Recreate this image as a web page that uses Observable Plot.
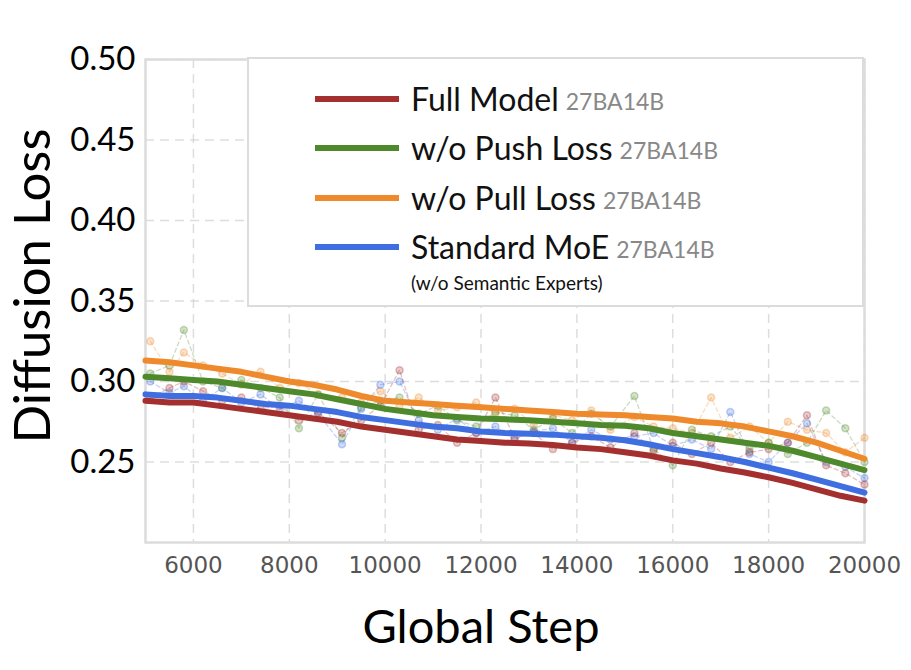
<!DOCTYPE html>
<html>
<head>
<meta charset="utf-8">
<script src="https://cdn.jsdelivr.net/npm/d3@7"></script>
<script src="https://cdn.jsdelivr.net/npm/@observablehq/plot@0.6"></script>
<style>
  html, body { margin: 0; padding: 0; background: #fff; }
  #wrap { position: relative; width: 911px; height: 670px; font-family: Lato, "Open Sans", sans-serif; }
  #legend { position: absolute; left: 247px; top: 57px; width: 613px; height: 246px; background: #fff; border: 2px solid #dcdcdc; }
  .row { position: absolute; left: 66px; display: flex; align-items: center; white-space: nowrap; }
  .sw { width: 84px; height: 6px; margin-right: 12px; }
  .name { font-size: 32px; color: #111; }
  .tag { font-size: 23px; color: #888; margin-left: 7px; padding-top: 5px; }
  .sub { position: absolute; left: 162px; top: 212px; font-size: 19px; color: #111; }
</style>
</head>
<body>
<div id="wrap"></div>
<script>
// ---- data ----
const seriesNames = ["Full Model", "w/o Push Loss", "w/o Pull Loss", "Standard MoE"];
const seriesColors = ["#a3302f", "#4e8a2c", "#ee8a2c", "#3f6ee0"];
const modelTag = "27BA14B";
const subNote = "(w/o Semantic Experts)";

const steps = [5000,5500,6000,6500,7000,7500,8000,8500,9000,9500,10000,10500,11000,11500,12000,12500,13000,13500,14000,14500,15000,15500,16000,16500,17000,17500,18000,18500,19000,19500,20000];

const fullSmooth  = [0.288,0.287,0.287,0.285,0.283,0.281,0.279,0.277,0.275,0.272,0.270,0.268,0.266,0.264,0.263,0.262,0.2615,0.2605,0.259,0.258,0.256,0.254,0.251,0.249,0.246,0.2435,0.2405,0.237,0.233,0.229,0.226];
const pushSmooth  = [0.303,0.302,0.301,0.300,0.298,0.296,0.294,0.292,0.289,0.286,0.283,0.281,0.279,0.278,0.277,0.2765,0.276,0.275,0.274,0.273,0.2725,0.271,0.268,0.266,0.264,0.262,0.260,0.257,0.253,0.249,0.245];
const pullSmooth  = [0.313,0.312,0.310,0.308,0.306,0.303,0.300,0.298,0.295,0.291,0.288,0.287,0.286,0.285,0.284,0.283,0.282,0.281,0.280,0.2795,0.279,0.278,0.277,0.275,0.274,0.272,0.269,0.266,0.262,0.257,0.252];
const moeSmooth   = [0.292,0.291,0.291,0.290,0.288,0.286,0.285,0.283,0.281,0.278,0.276,0.274,0.272,0.271,0.269,0.268,0.2675,0.267,0.266,0.265,0.2635,0.261,0.258,0.2555,0.253,0.250,0.2465,0.243,0.239,0.235,0.231];

const rawSteps = [5100,5500,5800,6200,6600,7000,7400,7800,8200,8600,9100,9500,9900,10300,10700,11100,11500,11900,12300,12700,13100,13500,13900,14300,14700,15200,15600,16000,16400,16800,17200,17600,18000,18400,18800,19200,19600,20000];
const fullRaw = [0.290,0.296,0.300,0.294,0.288,0.290,0.283,0.285,0.276,0.281,0.268,0.276,0.285,0.307,0.270,0.273,0.262,0.268,0.290,0.265,0.268,0.258,0.262,0.266,0.259,0.268,0.257,0.262,0.255,0.262,0.250,0.256,0.258,0.262,0.279,0.248,0.243,0.236];
const pushRaw = [0.305,0.310,0.332,0.300,0.296,0.301,0.296,0.290,0.271,0.292,0.265,0.284,0.288,0.290,0.280,0.285,0.276,0.272,0.281,0.279,0.270,0.277,0.268,0.280,0.272,0.291,0.258,0.248,0.270,0.266,0.272,0.258,0.262,0.255,0.262,0.282,0.271,0.250];
const pullRaw = [0.325,0.306,0.318,0.310,0.305,0.298,0.306,0.296,0.299,0.292,0.290,0.287,0.294,0.285,0.290,0.282,0.284,0.287,0.280,0.283,0.273,0.279,0.276,0.282,0.270,0.278,0.272,0.271,0.268,0.290,0.265,0.272,0.262,0.275,0.270,0.268,0.256,0.265];
const moeRaw  = [0.300,0.293,0.297,0.288,0.296,0.287,0.292,0.283,0.288,0.280,0.261,0.283,0.298,0.300,0.276,0.270,0.277,0.268,0.272,0.264,0.269,0.271,0.262,0.270,0.264,0.266,0.268,0.260,0.264,0.258,0.281,0.255,0.250,0.262,0.274,0.250,0.247,0.240];

const xTicks = [6000,8000,10000,12000,14000,16000,18000,20000];
const yTicks = [0.25,0.30,0.35,0.40,0.45,0.50];
const xDomain = [5000, 20000];
const yDomain = [0.20, 0.50];
const xTitle = "Global Step";
const yTitle = "Diffusion Loss";

// ---- build tidy tables ----
const smoothSets = [fullSmooth, pushSmooth, pullSmooth, moeSmooth];
const rawSets = [fullRaw, pushRaw, pullRaw, moeRaw];
const smooth = smoothSets.flatMap((arr, i) => arr.map((v, j) => ({step: steps[j], loss: v, series: seriesNames[i]})));
const raw = rawSets.flatMap((arr, i) => arr.map((v, j) => ({step: rawSteps[j], loss: v, series: seriesNames[i]})));
const drawOrder = ["w/o Pull Loss", "w/o Push Loss", "Standard MoE", "Full Model"];

const color = {domain: seriesNames, range: seriesColors};

const chart = Plot.plot({
  width: 911,
  height: 670,
  marginLeft: 145,
  marginRight: 47,
  marginTop: 59,
  marginBottom: 128,
  style: {fontFamily: "Lato, 'Open Sans', sans-serif", background: "#fff"},
  x: {domain: xDomain},
  y: {domain: yDomain},
  color: color,
  marks: [
    Plot.gridX(xTicks, {stroke: "#cfcfcf", strokeOpacity: 0.7, strokeDasharray: "9,6", strokeWidth: 1.5}),
    Plot.gridY(yTicks, {stroke: "#cfcfcf", strokeOpacity: 0.7, strokeDasharray: "9,6", strokeWidth: 1.5}),
    Plot.frame({stroke: "#dcdcdc", strokeWidth: 2.5}),
    Plot.axisY({ticks: yTicks, tickSize: 0, tickPadding: 10, tickFormat: d3.format(".2f"),
      fontSize: 33, fill: "#000", label: null}),
    Plot.axisX({ticks: xTicks, tickSize: 0, tickPadding: 14, tickFormat: d => String(d),
      fontSize: 23, fill: "#555", fontFamily: "'DejaVu Sans', sans-serif", label: null}),
    Plot.text([xTitle], {frameAnchor: "bottom", dx: -24, dy: 100, fontSize: 47, fill: "#000"}),
    Plot.text([yTitle], {frameAnchor: "left", textAnchor: "middle", lineAnchor: "middle", dx: -112, dy: -15, rotate: -90, fontSize: 51, fill: "#000"}),
    ...drawOrder.map(name => Plot.line(raw.filter(d => d.series === name), {x: "step", y: "loss", stroke: "series", strokeWidth: 1.3, strokeDasharray: "4,3", strokeOpacity: 0.3})),
    ...drawOrder.map(name => Plot.dot(raw.filter(d => d.series === name), {x: "step", y: "loss", fill: "series", stroke: "series", r: 3.5, fillOpacity: 0.25, strokeOpacity: 0.3})),
    ...drawOrder.map(name => Plot.line(smooth.filter(d => d.series === name), {x: "step", y: "loss", stroke: "series", strokeWidth: 6}))
  ]
});

const wrap = document.getElementById("wrap");
wrap.appendChild(chart);

// legend (HTML overlay)
const legend = document.createElement("div");
legend.id = "legend";
const rowTops = [20, 69, 119, 168];
seriesNames.forEach((name, i) => {
  const row = document.createElement("div");
  row.className = "row";
  row.style.top = rowTops[i] + "px";
  row.innerHTML = `<div class="sw" style="background:${seriesColors[i]}"></div><span class="name">${name}</span><span class="tag">${modelTag}</span>`;
  legend.appendChild(row);
});
const sub = document.createElement("div");
sub.className = "sub";
sub.textContent = subNote;
legend.appendChild(sub);
wrap.appendChild(legend);
</script>
</body>
</html>
